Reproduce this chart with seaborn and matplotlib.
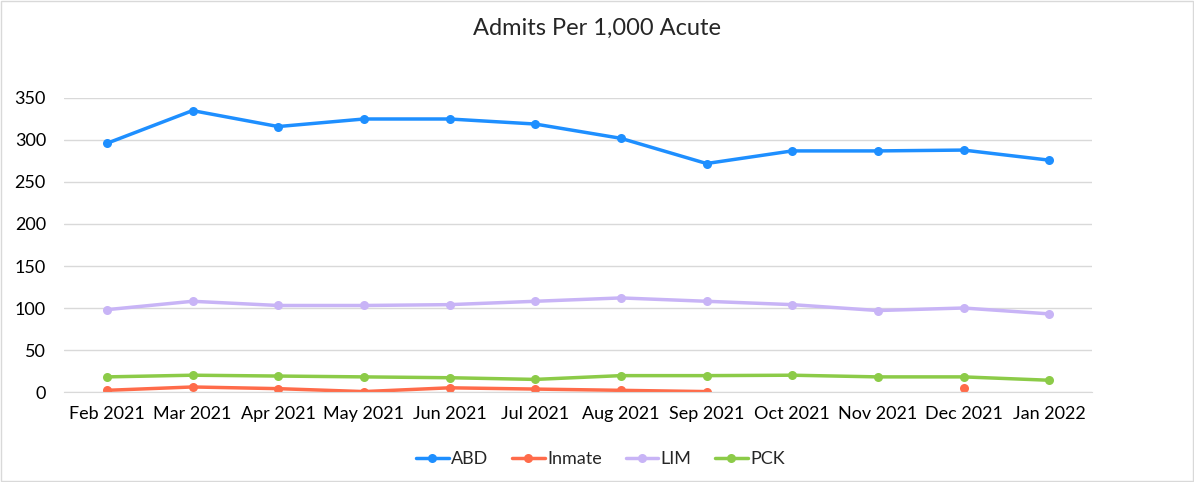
import numpy as np
import pandas as pd
import matplotlib
matplotlib.use("Agg")
import matplotlib.pyplot as plt
import seaborn as sns

months = ["Feb 2021", "Mar 2021", "Apr 2021", "May 2021", "Jun 2021", "Jul 2021",
          "Aug 2021", "Sep 2021", "Oct 2021", "Nov 2021", "Dec 2021", "Jan 2022"]
abd = [296, 335, 316, 325, 325, 319, 302, 272, 287, 287, 288, 276]
inmate = [2, 6, 4, 0.5, 5, 3.5, 2, 0.5, np.nan, np.nan, 5, np.nan]
lim = [98, 108, 103, 103, 104, 108, 112, 108, 104, 97, 100, 93]
pck = [18, 20, 19, 18, 17, 15, 19.5, 19.5, 20, 18, 18, 14]

series = {"ABD": abd, "Inmate": inmate, "LIM": lim, "PCK": pck}
colors = {"ABD": "#1E8FFF", "Inmate": "#FF6B4A", "LIM": "#C8B4F6", "PCK": "#8CCB48"}

rows = []
for name, vals in series.items():
    v = pd.Series(vals, dtype=float)
    seg = v.isna().cumsum()  # break line at gaps
    for i, (val, s) in enumerate(zip(v, seg)):
        rows.append({"month": i, "value": val, "series": name, "seg": f"{name}_{s}"})
df = pd.DataFrame(rows)

sns.set_style("white")
plt.rcParams["font.family"] = ["Lato", "DejaVu Sans"]

fig = plt.figure(figsize=(11.94, 4.82), dpi=100)
ax = fig.add_axes([0.0536, 0.1867, 0.861, 0.61])

sns.lineplot(data=df, x="month", y="value", hue="series", units="seg", estimator=None,
             palette=colors, marker="o", markersize=6.5, markeredgewidth=0, linewidth=2.5,
             ax=ax)

ax.set_xlim(-0.5, 11.5)
ax.set_ylim(0, 350)
ax.set_yticks(range(0, 351, 50))
ax.set_xticks(range(12))
ax.set_xticklabels(months)
ax.grid(axis="y", color="#D9D9D9", linewidth=1)
ax.set_axisbelow(True)
for side in ["left", "right", "top"]:
    ax.spines[side].set_visible(False)
ax.spines["bottom"].set_color("#D9D9D9")
ax.tick_params(axis="both", length=0, labelsize=13, colors="#000000")
ax.tick_params(axis="y", pad=13)
ax.tick_params(axis="x", pad=10)
ax.set_xlabel("")
ax.set_ylabel("")

fig.suptitle("Admits Per 1,000 Acute", fontsize=17, x=0.5, y=0.942, va="center")

handles, labels = ax.get_legend_handles_labels()
ax.legend(handles, labels, loc="center", bbox_to_anchor=(0.503, 0.048), bbox_transform=fig.transFigure,
          ncol=4, frameon=False, fontsize=13, handlelength=1.8, handletextpad=0.15,
          columnspacing=1.3)

fig.patches.append(plt.Rectangle((0.001, 0.002), 0.998, 0.996, transform=fig.transFigure,
                                 fill=False, edgecolor="#D9D9D9", linewidth=1))

fig.savefig("out.png", dpi=100)
